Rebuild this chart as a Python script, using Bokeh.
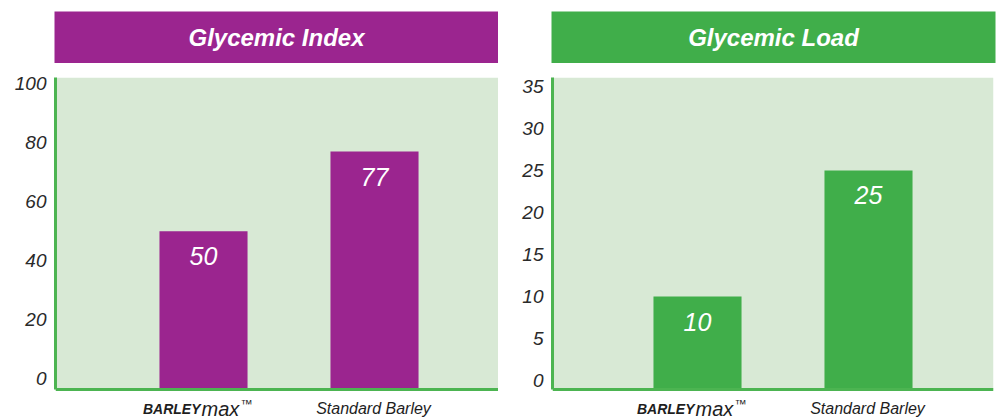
from bokeh.plotting import figure
from bokeh.models import Range1d, FixedTicker
from bokeh.layouts import row, column
from bokeh.core.properties import value
from bokeh.embed import file_html
from bokeh.resources import INLINE

# ---------------- data ----------------
titles = ["Glycemic Index", "Glycemic Load"]
brand_parts = ["BARLEY", "max", "\u2122"]
categories = ["".join(brand_parts), "Standard Barley"]
gi_values = [50, 77]
gl_values = [10, 25]
gi_ticks = [0, 20, 40, 60, 80, 100]
gl_ticks = [0, 5, 10, 15, 20, 25, 30, 35]

# ---------------- style ----------------
PURPLE = "#9B258F"
GREEN = "#40AE4A"
AXIS_GREEN = "#4CB451"
BG = "#D8E9D5"
FONT = "Liberation Sans"
TXT = "#1e1e1e"

FRAME_H = 312      # plotting area height (px)
LABEL_H = 28       # strip under the plotting area for category names (px)

xpos = list(range(1, len(categories) + 1))


def title_fig(text, color, width, left, right):
    t = figure(width=width, height=63, x_range=Range1d(0, 1), y_range=Range1d(0, 1),
               x_axis_type=None, y_axis_type=None, toolbar_location=None,
               output_backend="svg", min_border_left=left, min_border_right=right,
               min_border_top=11, min_border_bottom=0)
    t.background_fill_color = color
    t.border_fill_color = "white"
    t.outline_line_color = None
    t.text(x=[0.5], y=[0.5], text=[text], text_align="center", text_baseline="middle",
           text_color="white", text_font=value(FONT), text_font_size="24px",
           text_font_style="bold italic")
    return t


def bar_fig(vals, ticks, ylo, yhi, xr, color, width, left, right):
    scale = FRAME_H / (yhi - ylo)
    ystart = ylo - LABEL_H / scale
    p = figure(width=width, height=14 + FRAME_H + LABEL_H, x_range=Range1d(*xr),
               y_range=Range1d(ystart, yhi), toolbar_location=None, output_backend="svg",
               x_axis_location=None, min_border_left=left, min_border_right=right,
               min_border_top=14, min_border_bottom=0)
    p.background_fill_color = "white"
    p.border_fill_color = "white"
    p.outline_line_color = None
    p.grid.visible = False

    # light-green plotting area and its green baseline
    p.quad(left=[xr[0]], right=[xr[1]], bottom=[ylo], top=[yhi], fill_color=BG, line_color=None)
    p.vbar(x=xpos, top=vals, bottom=ylo, width=0.515, fill_color=color, line_color=None)
    p.hspan(y=[ylo], line_color=AXIS_GREEN, line_width=3)

    p.text(x=xpos, y=vals, text=[str(v) for v in vals], text_align="center",
           text_baseline="middle", y_offset=25, text_color="white",
           text_font=value(FONT), text_font_size="25px", text_font_style="italic")

    p.yaxis.ticker = FixedTicker(ticks=ticks)
    p.yaxis.bounds = (ylo, yhi)
    p.yaxis.axis_line_color = AXIS_GREEN
    p.yaxis.axis_line_width = 3
    p.yaxis.major_tick_line_color = None
    p.yaxis.minor_tick_line_color = None
    p.yaxis.major_tick_out = 0
    p.yaxis.major_label_standoff = 9
    p.yaxis.major_label_text_font = FONT
    p.yaxis.major_label_text_font_size = "19px"
    p.yaxis.major_label_text_font_style = "italic"
    p.yaxis.major_label_text_color = "#2a2a2a"

    # category names under the bars
    yl = [ystart]
    p.text(x=[xpos[0]], y=yl, text=[brand_parts[0]], x_offset=-3, y_offset=-9,
           text_align="right", text_baseline="alphabetic", text_color=TXT,
           text_font=value(FONT), text_font_size="14px", text_font_style="bold italic")
    p.text(x=[xpos[0]], y=yl, text=[brand_parts[1]], x_offset=-2, y_offset=-9,
           text_align="left", text_baseline="alphabetic", text_color=TXT,
           text_font=value(FONT), text_font_size="20px", text_font_style="italic")
    p.text(x=[xpos[0]], y=yl, text=[brand_parts[2]], x_offset=37, y_offset=-14,
           text_align="left", text_baseline="alphabetic", text_color=TXT,
           text_font=value(FONT), text_font_size="12px")
    p.text(x=[xpos[1]], y=yl, text=[categories[1]], x_offset=-1, y_offset=-9,
           text_align="center", text_baseline="alphabetic", text_color=TXT,
           text_font=value(FONT), text_font_size="16px", text_font_style="italic")
    return p


t1 = title_fig(titles[0], PURPLE, 498, 54, 0)
t2 = title_fig(titles[1], GREEN, 502, 53, 5)
p1 = bar_fig(gi_values, gi_ticks, -3.6, 102.1, (0.1345, 2.7251), PURPLE, 498, 55, 0)
p2 = bar_fig(gl_values, gl_ticks, -1.07, 36.07, (0.152, 2.731), GREEN, 502, 54, 7)

layout = column(row(t1, t2), row(p1, p2))

open("out.html", "w").write(file_html(layout, INLINE))
